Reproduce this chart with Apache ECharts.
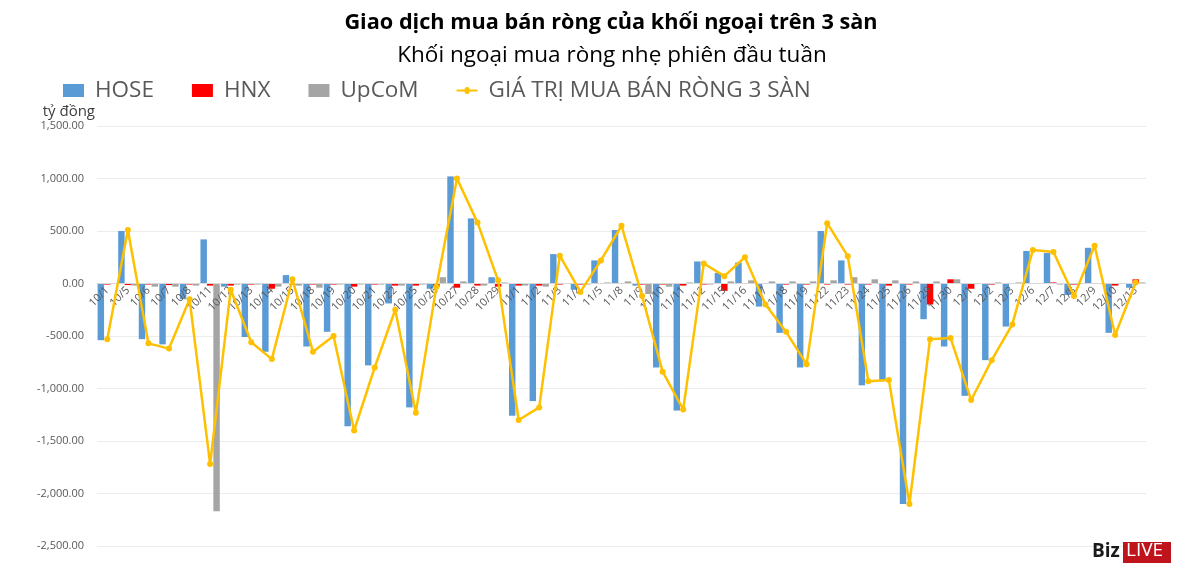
<!DOCTYPE html>
<html><head><meta charset="utf-8">
<script src="https://cdn.jsdelivr.net/npm/echarts@6/dist/echarts.min.js"></script>
<style>html,body{margin:0;padding:0;background:#fff}#c{width:1200px;height:576px}</style>
</head><body><div id="c"></div>
<script>
const categories = ['10/1','10/5','10/6','10/7','10/8','10/11','10/12','10/13','10/14','10/15','10/18','10/19','10/20','10/21','10/22','10/25','10/26','10/27','10/28','10/29','11/1','11/2','11/3','11/4','11/5','11/8','11/9','11/10','11/11','11/12','11/15','11/16','11/17','11/18','11/19','11/22','11/23','11/24','11/25','11/26','11/29','11/30','12/1','12/2','12/3','12/6','12/7','12/8','12/9','12/10','12/13'];
const hose = [-540,500,-530,-580,-150,420,-30,-510,-650,80,-600,-460,-1360,-780,-190,-1180,-50,1020,620,60,-1260,-1120,280,-60,220,510,-20,-800,-1210,210,100,200,-220,-470,-800,500,220,-970,-930,-2100,-340,-600,-1070,-730,-410,310,290,-110,340,-470,-40];
const hnx = [-10,-15,-10,-15,-10,-20,-20,-10,-50,-10,-10,-10,-30,-10,-20,-20,-30,-40,-20,-30,-20,-20,-10,-10,-5,-5,-10,-10,-20,-10,-70,-5,-5,-10,-10,-10,-10,-10,-20,-10,-200,40,-50,-10,-5,-5,10,-10,-5,-20,40];
const upcom = [-5,-20,-30,-30,-20,-2170,-10,-10,-30,-20,-40,-10,-10,-10,-20,-10,60,20,-20,10,-20,-30,0,-10,10,20,-100,-30,10,-10,20,30,20,20,20,30,60,40,30,20,20,40,0,10,10,5,-10,-5,5,5,10];
const total = [-530,510,-570,-620,-150,-1720,-60,-560,-720,40,-650,-500,-1400,-800,-250,-1230,-30,1000,580,30,-1300,-1180,265,-80,220,550,-120,-840,-1200,190,70,250,-200,-460,-770,575,260,-930,-920,-2100,-530,-520,-1110,-730,-390,320,300,-120,360,-490,10];
const yTicks = {min:-2500, max:1500, step:500};
const titleText = 'Giao dịch mua bán ròng của khối ngoại trên 3 sàn';
const subtitleText = 'Khối ngoại mua ròng nhẹ phiên đầu tuần';

const gridTop = 126, gridBottom = 30, gridH = 576 - gridTop - gridBottom;
const zeroFromBottom = gridH * (0 - yTicks.min) / (yTicks.max - yTicks.min);

const chart = echarts.init(document.getElementById('c'));
const fmt = v => (v<0?'-':'') + Math.abs(v).toLocaleString('en-US',{minimumFractionDigits:2,maximumFractionDigits:2});
const font = '"Open Sans", "Noto Sans", sans-serif';
const lineIcon = 'path://M0,5.5 L8,5.5 A2.5,2.5 0 0 1 13,5.5 L21,5.5 L21,7.5 L13,7.5 A2.5,2.5 0 0 1 8,7.5 L0,7.5 Z';
chart.setOption({
  animation:false,
  textStyle:{fontFamily:font},
  legend:{
    left:58, top:74, itemGap:38, itemWidth:21, itemHeight:13,
    textStyle:{fontSize:22.5, color:'#595959', fontFamily:font, padding:[0,0,0,6]},
    data:[
      {name:'HOSE', icon:'rect'},
      {name:'HNX', icon:'rect'},
      {name:'UpCoM', icon:'rect'},
      {name:'GIÁ TRỊ MUA BÁN RÒNG 3 SÀN', icon:lineIcon, itemStyle:{color:'#FFC000'}}
    ]
  },
  grid:{left:97, right:54, top:gridTop, bottom:gridBottom, containLabel:false},
  xAxis:{
    type:'category', data:categories, position:'bottom', offset:-zeroFromBottom, z:3,
    axisLine:{onZero:false, lineStyle:{color:'#d9d9d9'}},
    axisTick:{show:false},
    axisLabel:{interval:0, rotate:45, fontSize:11, color:'#595959', margin:5}
  },
  yAxis:{
    type:'value', min:yTicks.min, max:yTicks.max, interval:yTicks.step,
    name:'tỷ đồng', nameLocation:'end', nameGap:7,
    nameTextStyle:{fontSize:15, color:'#404040', align:'right', padding:[0,2,0,0]},
    axisLine:{show:false}, axisTick:{show:false},
    axisLabel:{fontSize:11, color:'#595959', formatter:fmt, margin:13},
    splitLine:{lineStyle:{color:'#ececec'}}
  },
  series:[
    {name:'HOSE', type:'bar', data:hose, itemStyle:{color:'#5B9BD5'}, barGap:'0%', barCategoryGap:'6%'},
    {name:'HNX', type:'bar', data:hnx, itemStyle:{color:'#FF0000'}},
    {name:'UpCoM', type:'bar', data:upcom, itemStyle:{color:'#A5A5A5'}},
    {name:'GIÁ TRỊ MUA BÁN RÒNG 3 SÀN', type:'line', data:total, z:6,
     lineStyle:{color:'#FFC000', width:2.5}, itemStyle:{color:'#FFC000'},
     symbol:'circle', symbolSize:6, showSymbol:true}
  ],
  graphic:[
    {type:'text', x:611, y:12, z:10, style:{text:titleText, align:'center', font:'bold 21.7px "Open Sans", sans-serif', fill:'#000'}},
    {type:'text', x:612, y:44, z:10, style:{text:subtitleText, align:'center', font:'22.5px "Open Sans", sans-serif', fill:'#000'}},
    {type:'text', left:1092, top:542, z:10, style:{text:'Biz', font:'bold 19px "Open Sans", sans-serif', fill:'#1a1a1a'}},
    {type:'rect', left:1123, top:542, z:10, shape:{width:48, height:21}, style:{fill:'#C0141C'}},
    {type:'text', left:1126, top:541, z:11, style:{text:'LIVE', font:'19px "Open Sans", sans-serif', fill:'#fff'}}
  ]
});
</script></body></html>
